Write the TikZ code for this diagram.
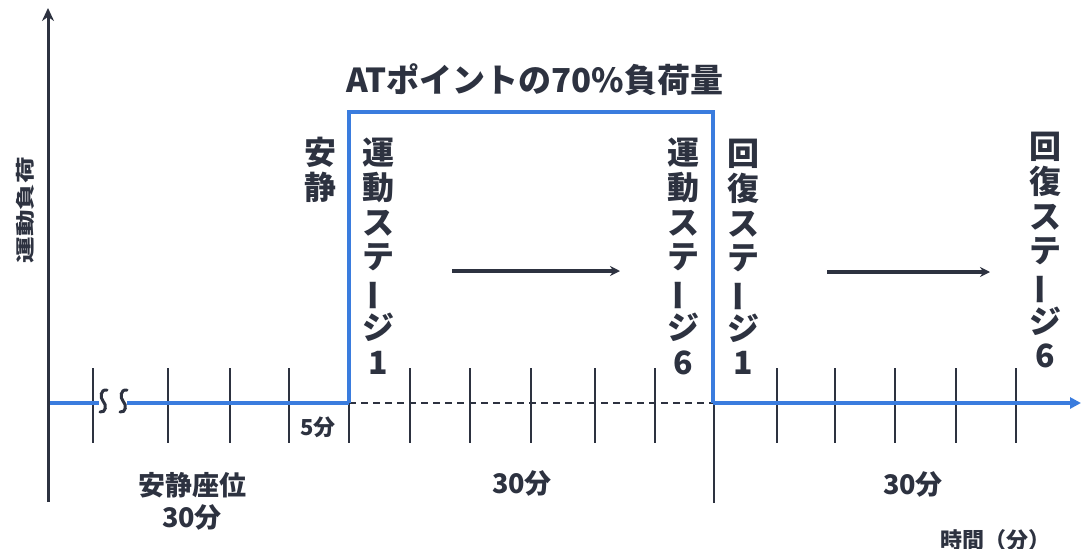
\documentclass[tikz,border=0pt]{standalone}
\usepackage{fontspec}
\setmainfont{Noto Sans CJK JP}
\usetikzlibrary{arrows.meta}
\definecolor{ink}{RGB}{45,50,64}
\definecolor{lineblue}{RGB}{58,124,222}
\newcommand\chouon{\rotatebox[origin=c]{90}{ー}}
\tikzset{
  axisline/.style={draw=ink, line width=3pt},
  tickline/.style={draw=ink, line width=2.8pt},
  blueline/.style={draw=lineblue, line width=4pt},
  vlab/.style={text=ink, font=\fontsize{32}{34.7}\selectfont\bfseries, align=center, inner sep=0pt, anchor=north},
  lab/.style={text=ink, font=\fontsize{27}{32}\selectfont\bfseries, align=center, inner sep=0pt},
  flowarrow/.style={draw=ink, line width=4pt, -{Stealth[length=10pt,width=10pt]}},
}
\begin{document}
\begin{tikzpicture}[x=1pt,y=-1pt]
\useasboundingbox (0,0) rectangle (1082,549);
% coordinates
\coordinate (yb) at (48,502);
\coordinate (yt) at (48,8);
\coordinate (o) at (48,403);
\coordinate (b1) at (99,403);
\coordinate (b2) at (127,403);
\coordinate (s) at (349,403);
\coordinate (st) at (349,112);
\coordinate (et) at (713,112);
\coordinate (e) at (713,403);
\coordinate (xe) at (1081,403);
% ticks
\foreach \x in {93,168,230,289,349,410,470,531,595,655,777,835,895,956,1016}
  \draw[tickline] (\x,368) -- (\x,443);
\draw[tickline] (714,370) -- (714,503);
% dashed part
\draw[draw=ink, line width=2.4pt, dash pattern=on 7pt off 5pt] (s) -- (e);
% blue load line
\draw[blueline] (o) -- (b1);
\draw[blueline] (b2) -- (s);
\draw[blueline, line join=miter] (s) -- (st) -- (et) -- (e);
\draw[blueline, -{Triangle[length=11pt,width=11pt]}] (e) -- (xe);
% break marks
\foreach \x in {103,123}
  \draw[draw=ink, line width=3pt, line cap=round]
    (\x+4,390) .. controls (\x-3,389) and (\x-3,398) .. (\x,401)
    .. controls (\x+4,405) and (\x+3,413) .. (\x-3,412);
% y axis
\draw[axisline, -{Stealth[length=13pt,width=12pt]}] (yb) -- (yt);
% labels
\node[text=ink, font=\fontsize{19}{20}\selectfont\bfseries, rotate=90, inner sep=0pt] (ylab) at (25,210) {\scalebox{1.4}[1]{運動負荷}};
\node[text=ink, font=\fontsize{33}{36}\selectfont\bfseries, inner sep=0pt] (title) at (535,80) {ATポイントの70\%負荷量};
\node[vlab] (rest) at (320,137) {安\\静};
\node[vlab] (ex1) at (378,138) {運\\動\\ス\\テ\\\chouon\\ジ\\1};
\node[vlab] (ex6) at (683,138) {運\\動\\ス\\テ\\\chouon\\ジ\\6};
\node[vlab] (rc1) at (743,139) {回\\復\\ス\\テ\\\chouon\\ジ\\1};
\node[vlab] (rc6) at (1045,132) {回\\復\\ス\\テ\\\chouon\\ジ\\6};
\coordinate (a1s) at (452,271);
\coordinate (a1e) at (620,271);
\coordinate (a2s) at (827,272);
\coordinate (a2e) at (990,272);
\draw[flowarrow] (a1s) -- (a1e);
\draw[flowarrow] (a2s) -- (a2e);
\node[text=ink, font=\fontsize{22}{24}\selectfont\bfseries, inner sep=0pt] (five) at (318,427) {5分};
\node[lab] (restlab) at (192,501) {安静座位\\30分};
\node[lab] (exlab) at (522,483) {30分};
\node[lab] (rclab) at (913,484) {30分};
\node[text=ink, font=\fontsize{22}{24}\selectfont\bfseries, inner sep=0pt] (tlab) at (995,540) {時間（分）};
\end{tikzpicture}
\end{document}
